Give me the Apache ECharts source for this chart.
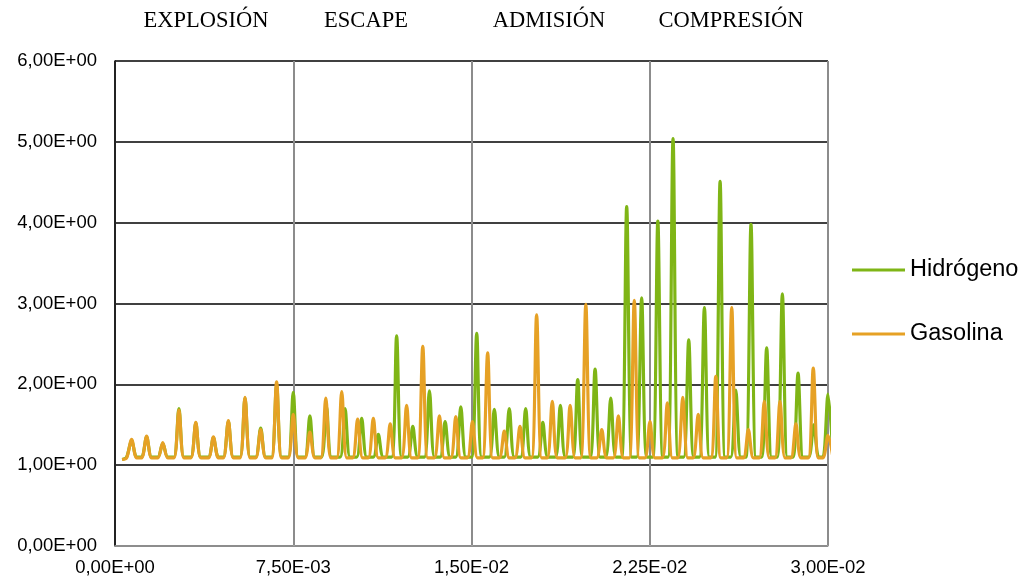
<!DOCTYPE html>
<html>
<head>
<meta charset="utf-8">
<script src="https://cdn.jsdelivr.net/npm/echarts@6/dist/echarts.min.js"></script>
<style>
html,body{margin:0;padding:0;background:#fff;}
#chart{width:1026px;height:580px;}
</style>
</head>
<body>
<div id="chart"></div>
<script>
// ---- data ----
const seriesNames = ['Hidrógeno', 'Gasolina'];
const phaseLabels = ['EXPLOSIÓN', 'ESCAPE', 'ADMISIÓN', 'COMPRESIÓN'];
const xTickLabels = ['0,00E+00', '7,50E-03', '1,50E-02', '2,25E-02', '3,00E-02'];
const yTickLabels = ['0,00E+00', '1,00E+00', '2,00E+00', '3,00E+00', '4,00E+00', '5,00E+00', '6,00E+00'];

// Hidrógeno: peak positions (s) and peak values
const hydrogenPeakX = [0.00070, 0.00133, 0.00201, 0.00269, 0.00340, 0.00414, 0.00477, 0.00547, 0.00613, 0.00680,
  0.00750, 0.00820, 0.00890, 0.00968, 0.01038, 0.01108, 0.01185, 0.01253, 0.01323, 0.01389,
  0.01455, 0.01522, 0.01596, 0.01659, 0.01728, 0.01800, 0.01874, 0.01947, 0.02020, 0.02086,
  0.02153, 0.02216, 0.02284, 0.02348, 0.02414, 0.02480, 0.02546, 0.02612, 0.02676, 0.02742,
  0.02808, 0.02874, 0.02940, 0.03000];
const hydrogenPeakY = [1.31, 1.35, 1.27, 1.70, 1.52, 1.34, 1.54, 1.83, 1.46, 2.00,
  1.90, 1.61, 1.72, 1.70, 1.58, 1.38, 2.60, 1.48, 1.92, 1.54,
  1.72, 2.63, 1.69, 1.70, 1.70, 1.53, 1.74, 2.06, 2.19, 1.83,
  4.20, 3.07, 4.02, 5.04, 2.55, 2.95, 4.51, 1.93, 3.98, 2.45,
  3.12, 2.14, 1.50, 1.88];
const hydrogenBase = 1.10;

// Gasolina: peak positions (s) and peak values
const gasolinePeakX = [0.00070, 0.00133, 0.00201, 0.00269, 0.00340, 0.00414, 0.00477, 0.00547, 0.00613, 0.00680,
  0.00750, 0.00820, 0.00887, 0.00954, 0.01021, 0.01087, 0.01158, 0.01227, 0.01295, 0.01365,
  0.01434, 0.01504, 0.01568, 0.01638, 0.01704, 0.01774, 0.01840, 0.01915, 0.01981, 0.02048,
  0.02118, 0.02185, 0.02251, 0.02324, 0.02389, 0.02454, 0.02528, 0.02595, 0.02665, 0.02732,
  0.02798, 0.02865, 0.02938, 0.03000];
const gasolinePeakY = [1.32, 1.36, 1.28, 1.68, 1.53, 1.35, 1.55, 1.84, 1.44, 2.03,
  1.63, 1.41, 1.83, 1.91, 1.57, 1.58, 1.51, 1.74, 2.47, 1.61,
  1.60, 1.54, 2.39, 1.42, 1.48, 2.86, 1.79, 1.74, 2.99, 1.44,
  1.61, 3.04, 1.54, 1.77, 1.84, 1.63, 2.10, 2.95, 1.44, 1.79,
  1.79, 1.51, 2.20, 1.37];
const gasolineBase = 1.09;

const startPoint = [0.00030, 1.07];
const spikeHalfWidth = 0.00021; // half width of a spike foot

function buildLine(px, py, base) {
  const pts = [startPoint];
  for (let i = 0; i < px.length; i++) {
    pts.push([px[i] - spikeHalfWidth, base]);
    pts.push([px[i], py[i]]);
    pts.push([px[i] + spikeHalfWidth, base]);
  }
  return pts;
}

const chart = echarts.init(document.getElementById('chart'), null, {renderer: 'canvas'});
const sans = '"Liberation Sans", Arial, sans-serif';
const serif = '"Liberation Serif", "Times New Roman", serif';
const phaseCenters = [206, 366, 549, 731];

chart.setOption({
  animation: false,
  backgroundColor: '#ffffff',
  grid: {left: 115, right: 198, top: 61, bottom: 34, containLabel: false},
  legend: {
    orient: 'vertical',
    left: 847,
    top: 252,
    itemWidth: 53,
    itemHeight: 3,
    itemGap: 38,
    icon: 'rect',
    data: seriesNames,
    textStyle: {fontFamily: sans, fontSize: 23.5, color: '#000', lineHeight: 26, padding: [0, 0, 0, 0]}
  },
  xAxis: {
    type: 'value',
    min: 0,
    max: 0.03,
    interval: 0.0075,
    axisLine: {show: true, lineStyle: {color: '#a6a6a6', width: 1.5}},
    axisTick: {show: false},
    axisLabel: {
      margin: 12,
      fontFamily: sans, fontSize: 18.5, color: '#000',
      formatter: (v) => xTickLabels[Math.round(v / 0.0075)]
    },
    splitLine: {show: true, lineStyle: {color: '#8c8c8c', width: 2}}
  },
  yAxis: {
    type: 'value',
    min: 0,
    max: 6,
    interval: 1,
    axisLine: {show: true, lineStyle: {color: '#000', width: 1.5}},
    axisTick: {show: false},
    axisLabel: {
      margin: 18,
      fontFamily: sans, fontSize: 18.5, color: '#000',
      formatter: (v) => yTickLabels[Math.round(v)]
    },
    splitLine: {show: true, lineStyle: {color: '#000', width: 1.5}}
  },
  graphic: phaseLabels.map((t, i) => ({
    type: 'text',
    x: phaseCenters[i],
    y: 21,
    style: {text: t, font: '22.5px ' + serif, fill: '#000', textAlign: 'center', textVerticalAlign: 'middle'}
  })),
  series: [
    {
      name: seriesNames[0],
      type: 'line',
      data: buildLine(hydrogenPeakX, hydrogenPeakY, hydrogenBase),
      showSymbol: false,
      smooth: 0.3,
      lineStyle: {width: 3.2, color: '#7fb516'},
      itemStyle: {color: '#7fb516'},
      z: 2
    },
    {
      name: seriesNames[1],
      type: 'line',
      data: buildLine(gasolinePeakX, gasolinePeakY, gasolineBase),
      showSymbol: false,
      smooth: 0.3,
      lineStyle: {width: 3.2, color: '#e6a125'},
      itemStyle: {color: '#e6a125'},
      z: 3
    }
  ]
});
</script>
</body>
</html>
